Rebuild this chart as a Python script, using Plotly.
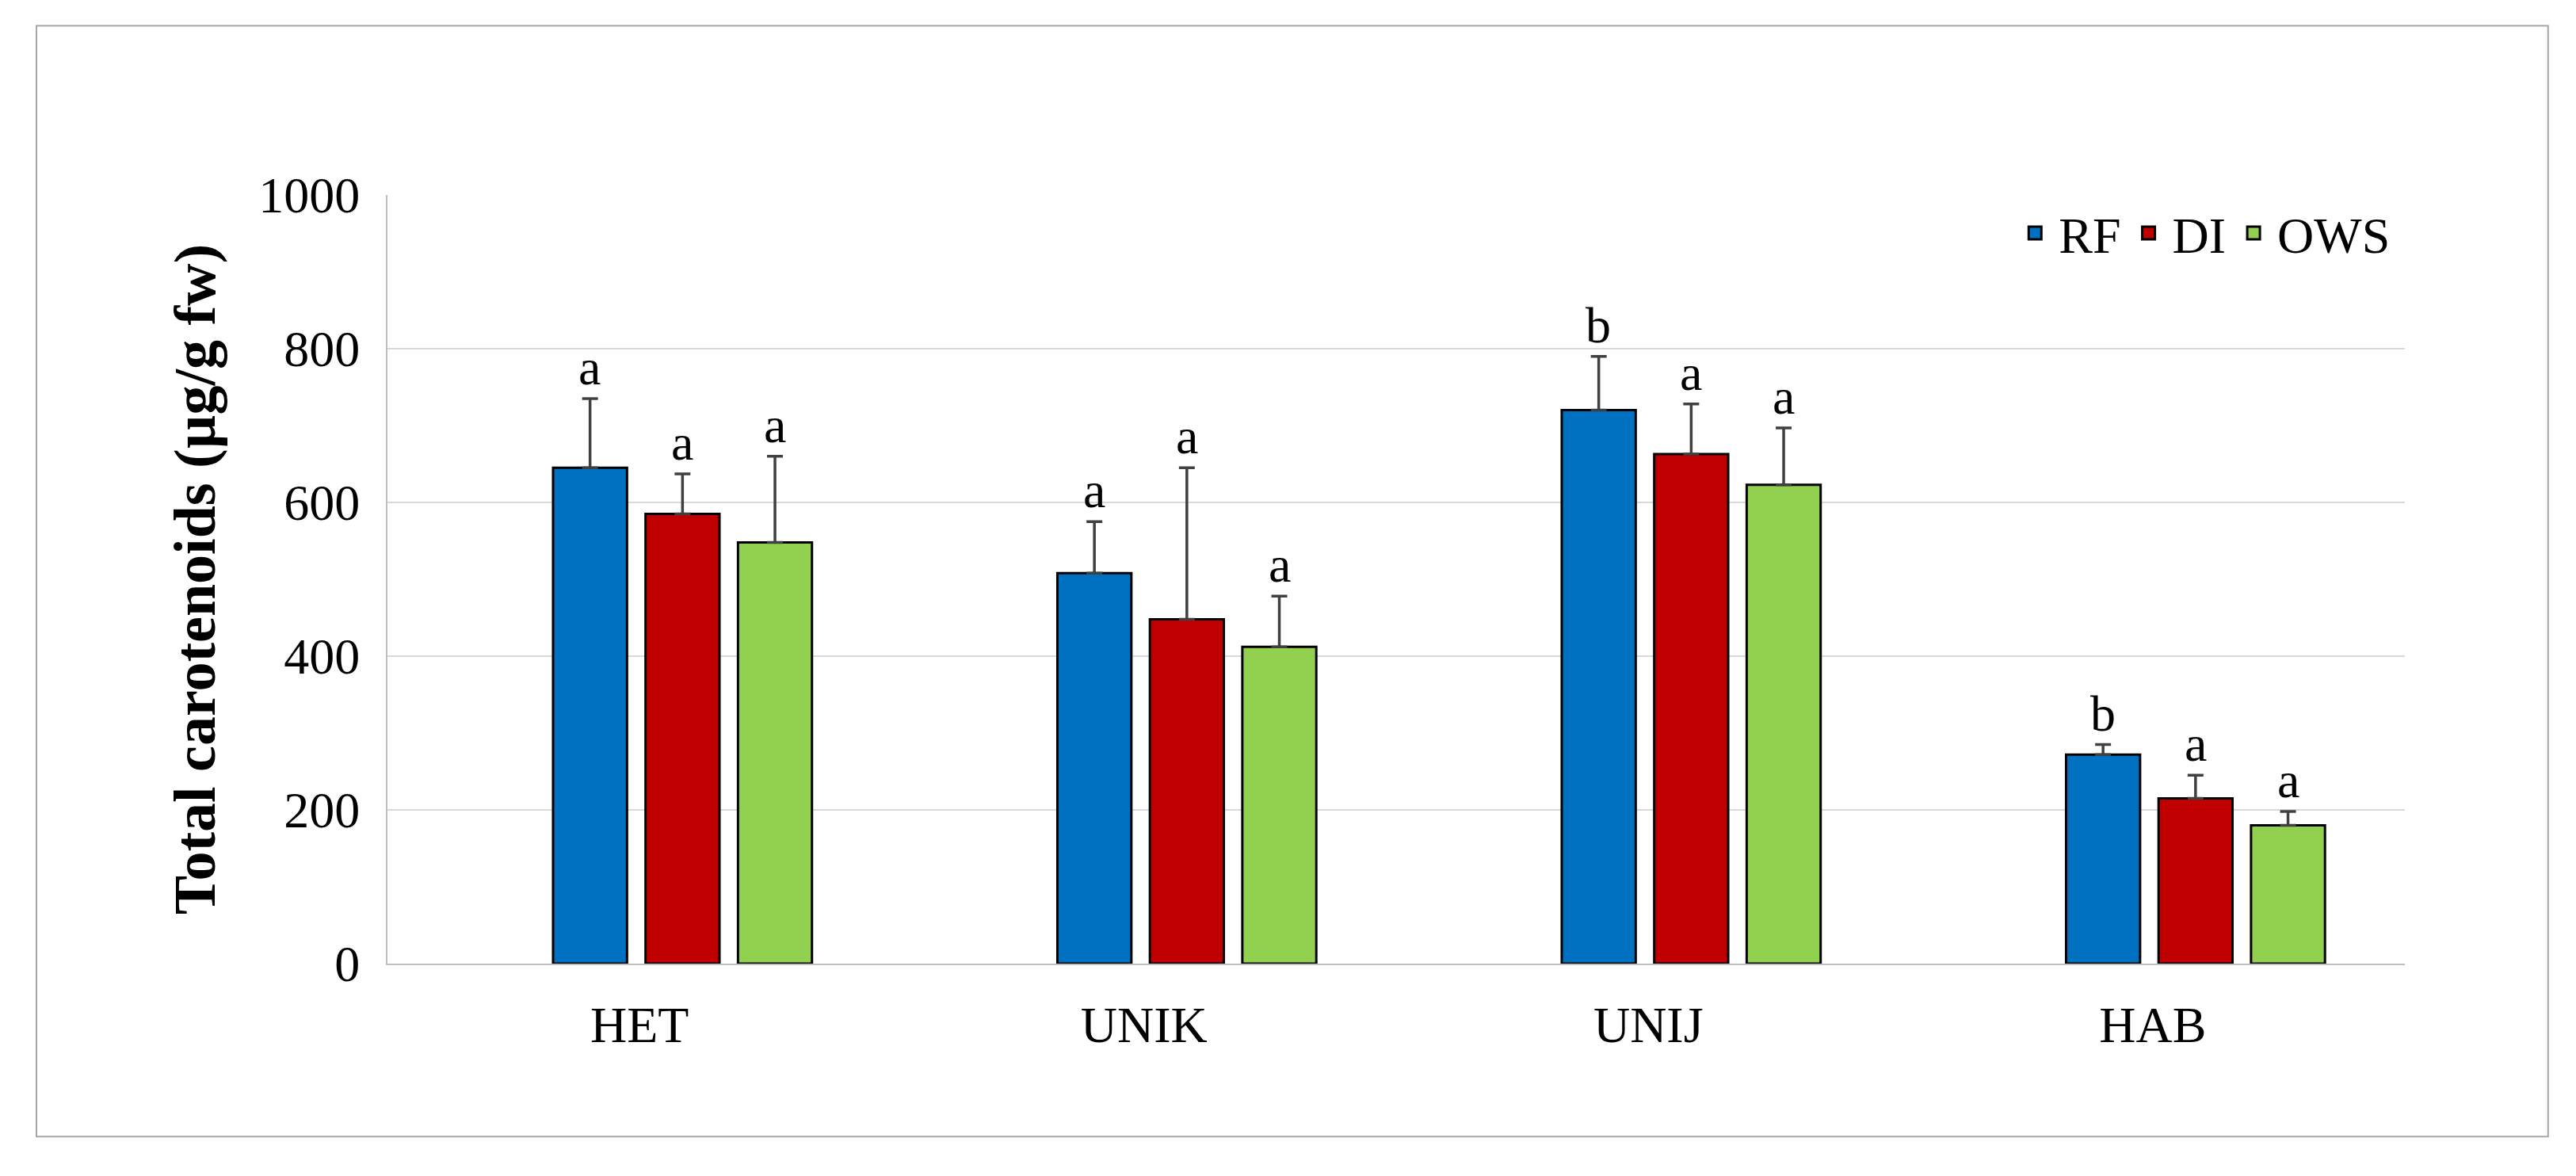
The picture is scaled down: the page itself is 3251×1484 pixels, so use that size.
import plotly.graph_objects as go

categories = ["HET", "UNIK", "UNIJ", "HAB"]
series = ["RF", "DI", "OWS"]
values = {
    "RF": [645, 508, 720, 272],
    "DI": [585, 448, 663, 215],
    "OWS": [548, 412, 623, 180],
}
errors = {
    "RF": [90, 67, 70, 13],
    "DI": [52, 197, 65, 30],
    "OWS": [112, 66, 74, 18],
}
letters = {
    "RF": ["a", "a", "b", "b"],
    "DI": ["a", "a", "a", "a"],
    "OWS": ["a", "a", "a", "a"],
}
colors = {"RF": "#0070C0", "DI": "#C00000", "OWS": "#92D050"}

FONT = "Liberation Serif"
SHIFT = 0.085  # bars sit a little right of the category label
pos = [i + SHIFT for i in range(len(categories))]

fig = go.Figure()
for s in series:
    fig.add_trace(go.Bar(
        x=pos, y=values[s], name=s, offsetgroup=s, showlegend=False,
        marker=dict(color=colors[s], line=dict(color="black", width=3)),
        error_y=dict(type="data", symmetric=False, array=errors[s],
                     arrayminus=[0] * 4, color="#404040", thickness=3.5, width=10),
    ))
    # legend entry with a bigger square swatch
    fig.add_trace(go.Scatter(
        x=[None], y=[None], mode="markers", name=s,
        marker=dict(symbol="square", size=34, color=colors[s],
                    line=dict(color="black", width=3)),
    ))

fig.update_layout(
    width=3251, height=1484,
    margin=dict(l=481, r=224, t=238, b=276),
    plot_bgcolor="white", paper_bgcolor="white",
    font=dict(family=FONT, size=64, color="black"),
    barmode="group", bargap=0.45, bargroupgap=0.2,
    legend=dict(orientation="h", x=0.995, xanchor="right", y=1.0, yanchor="top",
                font=dict(size=64), itemwidth=50, tracegroupgap=0),
)
fig.update_yaxes(range=[0, 1000], dtick=200, showgrid=True, gridcolor="#D9D9D9",
                 gridwidth=2, showline=True, linecolor="#BFBFBF", linewidth=2,
                 zeroline=False, ticks="", ticklabelstandoff=20,
                 title=dict(text="<b>Total carotenoids (µg/g fw)</b>",
                            font=dict(size=74), standoff=30))
fig.update_xaxes(range=[-0.5, 3.5], tickvals=list(range(len(categories))),
                 ticktext=categories, showline=True, linecolor="#BFBFBF",
                 linewidth=2, ticks="", ticklabelstandoff=20, showgrid=False,
                 zeroline=False)

offsets = {"RF": -0.184, "DI": 0.0, "OWS": 0.184}
for s in series:
    for i in range(len(categories)):
        fig.add_annotation(x=pos[i] + offsets[s], y=values[s][i] + errors[s][i],
                           xref="x", yref="y", text=letters[s][i], showarrow=False,
                           yanchor="bottom", yshift=2, font=dict(size=64))

fig.add_shape(type="rect", xref="paper", yref="paper",
              x0=-0.174, x1=1.071, y0=-0.225, y1=1.22,
              line=dict(color="#A6A6A6", width=2))

fig.write_html("out.html")
